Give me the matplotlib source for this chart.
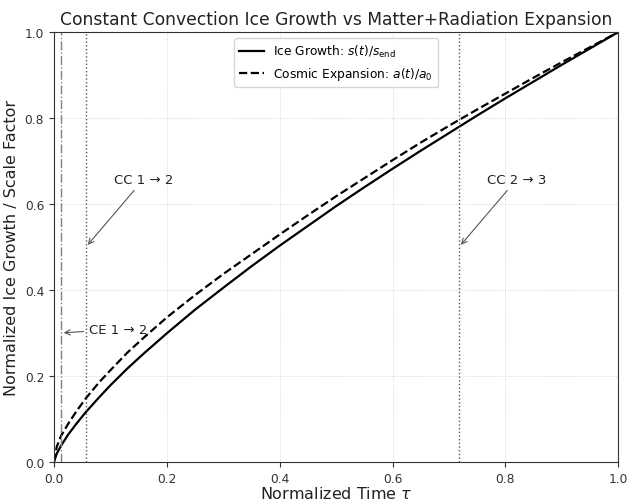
import matplotlib
matplotlib.use("Agg")
import matplotlib.pyplot as plt

# normalized time samples
tau = [0, 0.005, 0.0124, 0.025, 0.04, 0.0567, 0.08, 0.1, 0.13, 0.16, 0.2,
       0.25, 0.3, 0.35, 0.4, 0.45, 0.5, 0.55, 0.6, 0.65, 0.7, 0.75, 0.8,
       0.85, 0.9, 0.95, 1.0]
# ice growth s(t)/s_end
ice = [0, 0.019, 0.037, 0.063, 0.089, 0.116, 0.150, 0.178, 0.217, 0.253,
       0.299, 0.354, 0.405, 0.455, 0.503, 0.549, 0.595, 0.639, 0.682, 0.724,
       0.765, 0.806, 0.846, 0.885, 0.924, 0.962, 1.0]
# cosmic expansion a(t)/a0
cosmic = [0, 0.035, 0.060, 0.088, 0.118, 0.148, 0.185, 0.213, 0.254, 0.290,
          0.336, 0.388, 0.437, 0.483, 0.529, 0.574, 0.618, 0.660, 0.702, 0.743,
          0.782, 0.820, 0.857, 0.894, 0.930, 0.965, 1.0]

# transition markers
ce_12 = 0.0124
cc_12 = 0.0567
cc_23 = 0.718

fig = plt.figure(figsize=(6.27, 5.02), dpi=100)
ax = fig.add_axes([0.086, 0.078, 0.9, 0.856])

ax.plot(tau, ice, color='k', lw=1.6, label=r'Ice Growth: $s(t)/s_{\rm end}$')
ax.plot(tau, cosmic, color='k', lw=1.6, ls='--', label=r'Cosmic Expansion: $a(t)/a_0$')

ax.axvline(ce_12, color='gray', ls='-.', lw=1.0)
ax.axvline(cc_12, color='#555555', ls=':', lw=1.0)
ax.axvline(cc_23, color='#555555', ls=':', lw=1.0)

arrow = dict(arrowstyle='->', color='#555555', lw=0.8)
ax.annotate('CE 1 → 2', xy=(ce_12, 0.3), xytext=(ce_12 + 0.05, 0.3),
            arrowprops=arrow, fontsize=9.5, color='#222222')
ax.annotate('CC 1 → 2', xy=(cc_12, 0.5), xytext=(cc_12 + 0.05, 0.65),
            arrowprops=arrow, fontsize=9.5, color='#222222')
ax.annotate('CC 2 → 3', xy=(cc_23, 0.5), xytext=(cc_23 + 0.05, 0.65),
            arrowprops=arrow, fontsize=9.5, color='#222222')

ax.set_xlim(0, 1)
ax.set_ylim(0, 1)
ax.set_xlabel(r'Normalized Time $\tau$', fontsize=11.5, labelpad=0, color='#222222')
ax.set_ylabel('Normalized Ice Growth / Scale Factor', fontsize=11.5, color='#222222')
ax.set_title('Constant Convection Ice Growth vs Matter+Radiation Expansion',
             fontsize=12.3, color='#222222')
ax.tick_params(labelsize=8.8, labelcolor='#333333', color='#333333')
for s in ax.spines.values():
    s.set_color('#333333')
ax.grid(True, ls=':', color='#d5d5d5', lw=0.7)
ax.legend(loc='upper center', fontsize=8.8)

plt.savefig('out.png', dpi=100)
